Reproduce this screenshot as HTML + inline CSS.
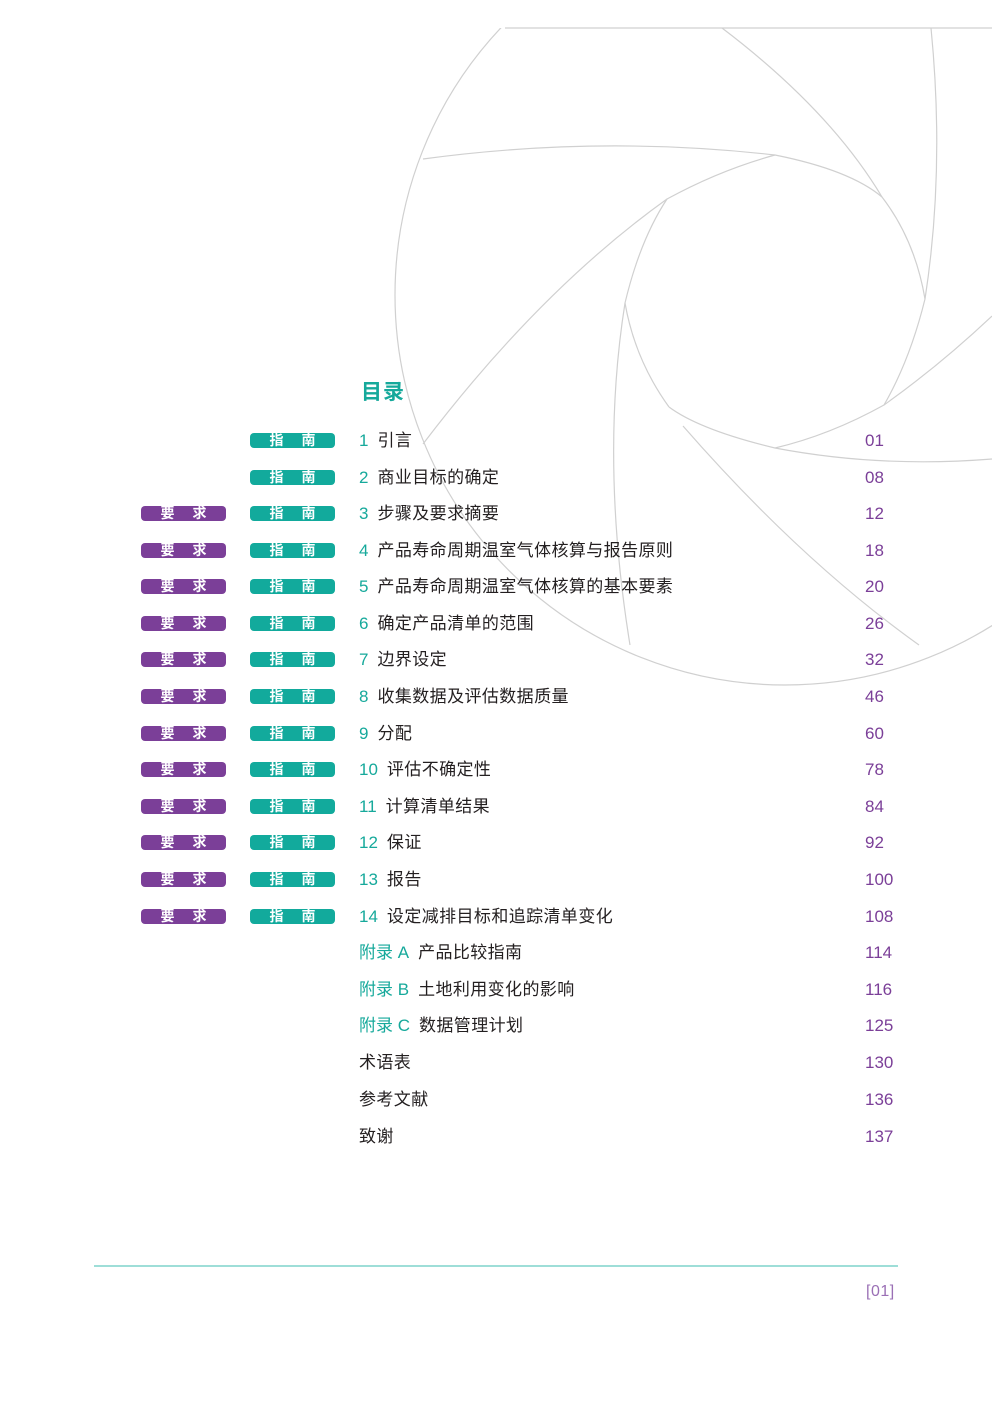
<!DOCTYPE html>
<html><head><meta charset="utf-8"><style>
body{margin:0;width:992px;height:1403px;background:#fff;position:relative;overflow:hidden;font-family:"Liberation Sans","Noto Sans CJK SC",sans-serif;}
svg{position:absolute;left:0;top:0}
.r{position:absolute;height:20px;line-height:20px;font-size:17px;letter-spacing:0.4px;color:#231f20;white-space:nowrap}
.n{color:#16a99b;margin-right:9px;letter-spacing:0}
.p{position:absolute;left:865px;font-size:17px;color:#7b3f98;height:20px;line-height:20px}
.pill{position:absolute;width:85px;height:15px;border-radius:4px;color:#fff;font-size:14px;font-weight:bold;line-height:15px;text-align:center;letter-spacing:18px;text-indent:18px}
.t{background:#12aa9c}.u{background:#7b3f98}
</style></head><body>
<svg width="992" height="1403" fill="none" stroke="#d0d0d0" stroke-width="1.2">
<defs><clipPath id="c"><rect x="0" y="28" width="992" height="1000"/></clipPath></defs>
<line x1="505" y1="28" x2="992" y2="28"/>
<circle cx="785" cy="295" r="390" clip-path="url(#c)"/>
<path d="M423,159 Q600,135 775,155 Q850,170 882,197 Q915,240 925,299"/>
<path d="M722,28 Q830,110 882,197"/>
<path d="M931,28 Q945,170 925,299 Q910,360 884,405"/>
<path d="M992,316 Q940,365 884,405 Q830,435 775,448"/>
<path d="M992,459 Q880,468 775,448 Q700,430 669,407"/>
<path d="M683,426 Q800,560 919,645"/>
<path d="M669,407 Q635,360 625,303"/>
<path d="M630,645 Q600,460 625,303 Q640,240 667,199"/>
<path d="M423,444 Q540,290 667,199 Q720,170 775,155"/>
<line x1="94" y1="1266" x2="898" y2="1266" stroke="#7fd3cb" stroke-width="1.5"/>
</svg>
<div style="position:absolute;left:361px;top:376px;font-size:21px;font-weight:bold;color:#16a99b;letter-spacing:1px">目录</div>

<div class="pill t" style="left:250px;top:433px">指南</div>
<div class="r" style="left:359px;top:431px"><span class="n">1</span>引言</div><div class="p" style="top:431px">01</div>
<div class="pill t" style="left:250px;top:470px">指南</div>
<div class="r" style="left:359px;top:468px"><span class="n">2</span>商业目标的确定</div><div class="p" style="top:468px">08</div>

<div class="pill u" style="left:141px;top:506px">要求</div><div class="pill t" style="left:250px;top:506px">指南</div>
<div class="r" style="left:359px;top:504px"><span class="n">3</span>步骤及要求摘要</div><div class="p" style="top:504px">12</div>
<div class="pill u" style="left:141px;top:543px">要求</div><div class="pill t" style="left:250px;top:543px">指南</div>
<div class="r" style="left:359px;top:541px"><span class="n">4</span>产品寿命周期温室气体核算与报告原则</div><div class="p" style="top:541px">18</div>
<div class="pill u" style="left:141px;top:579px">要求</div><div class="pill t" style="left:250px;top:579px">指南</div>
<div class="r" style="left:359px;top:577px"><span class="n">5</span>产品寿命周期温室气体核算的基本要素</div><div class="p" style="top:577px">20</div>
<div class="pill u" style="left:141px;top:616px">要求</div><div class="pill t" style="left:250px;top:616px">指南</div>
<div class="r" style="left:359px;top:614px"><span class="n">6</span>确定产品清单的范围</div><div class="p" style="top:614px">26</div>
<div class="pill u" style="left:141px;top:652px">要求</div><div class="pill t" style="left:250px;top:652px">指南</div>
<div class="r" style="left:359px;top:650px"><span class="n">7</span>边界设定</div><div class="p" style="top:650px">32</div>
<div class="pill u" style="left:141px;top:689px">要求</div><div class="pill t" style="left:250px;top:689px">指南</div>
<div class="r" style="left:359px;top:687px"><span class="n">8</span>收集数据及评估数据质量</div><div class="p" style="top:687px">46</div>
<div class="pill u" style="left:141px;top:726px">要求</div><div class="pill t" style="left:250px;top:726px">指南</div>
<div class="r" style="left:359px;top:724px"><span class="n">9</span>分配</div><div class="p" style="top:724px">60</div>
<div class="pill u" style="left:141px;top:762px">要求</div><div class="pill t" style="left:250px;top:762px">指南</div>
<div class="r" style="left:359px;top:760px"><span class="n">10</span>评估不确定性</div><div class="p" style="top:760px">78</div>
<div class="pill u" style="left:141px;top:799px">要求</div><div class="pill t" style="left:250px;top:799px">指南</div>
<div class="r" style="left:359px;top:797px"><span class="n">11</span>计算清单结果</div><div class="p" style="top:797px">84</div>
<div class="pill u" style="left:141px;top:835px">要求</div><div class="pill t" style="left:250px;top:835px">指南</div>
<div class="r" style="left:359px;top:833px"><span class="n">12</span>保证</div><div class="p" style="top:833px">92</div>
<div class="pill u" style="left:141px;top:872px">要求</div><div class="pill t" style="left:250px;top:872px">指南</div>
<div class="r" style="left:359px;top:870px"><span class="n">13</span>报告</div><div class="p" style="top:870px">100</div>
<div class="pill u" style="left:141px;top:909px">要求</div><div class="pill t" style="left:250px;top:909px">指南</div>
<div class="r" style="left:359px;top:907px"><span class="n">14</span>设定减排目标和追踪清单变化</div><div class="p" style="top:907px">108</div>

<div class="r" style="left:359px;top:943px"><span class="n">附录 A</span>产品比较指南</div><div class="p" style="top:943px">114</div>
<div class="r" style="left:359px;top:980px"><span class="n">附录 B</span>土地利用变化的影响</div><div class="p" style="top:980px">116</div>
<div class="r" style="left:359px;top:1016px"><span class="n">附录 C</span>数据管理计划</div><div class="p" style="top:1016px">125</div>
<div class="r" style="left:359px;top:1053px">术语表</div><div class="p" style="top:1053px">130</div>
<div class="r" style="left:359px;top:1090px">参考文献</div><div class="p" style="top:1090px">136</div>
<div class="r" style="left:359px;top:1127px">致谢</div><div class="p" style="top:1127px">137</div>

<div style="position:absolute;left:866px;top:1283px;font-size:16px;color:#9a6fb5;letter-spacing:0.5px">[01]</div>
</body></html>
